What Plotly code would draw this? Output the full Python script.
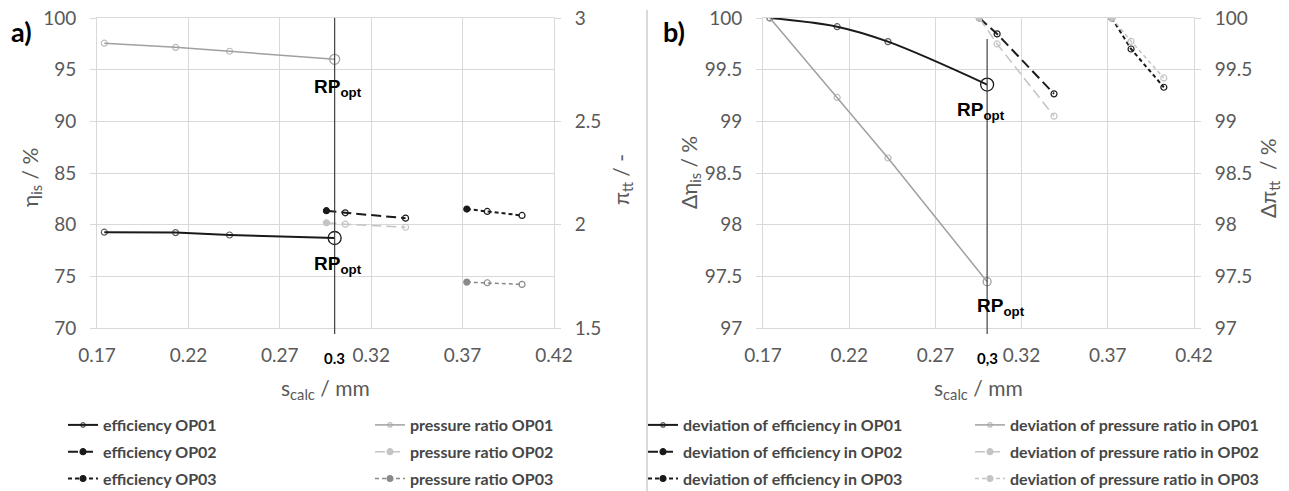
import plotly.graph_objects as go

W, H = 1289, 491

# ---- data: a) absolute values ----
x_op01 = [0.174, 0.213, 0.2425, 0.3]
x_op02 = [0.2955, 0.3058, 0.3388]
x_op03 = [0.3723, 0.3835, 0.4025]

eff_op01 = [79.27, 79.23, 79.0, 78.71]
eff_op02 = [81.35, 81.15, 80.63]
eff_op03 = [81.51, 81.28, 80.89]

pr_op01 = [2.878, 2.858, 2.839, 2.80]
pr_op02 = [2.009, 2.0025, 1.9875]
pr_op03 = [1.722, 1.719, 1.711]

# ---- data: b) deviations ----
deff_op01 = [100, 99.916, 99.771, 99.356]
deff_op02 = [100, 99.846, 99.266]
deff_op03 = [100, 99.70, 99.33]

dpr_op01 = [100, 99.231, 98.645, 97.448]
dpr_op02 = [100, 99.749, 99.05]
dpr_op03 = [100, 99.774, 99.42]

x_ticks = [0.17, 0.22, 0.27, 0.32, 0.37, 0.42]
rp_x = 0.3

BLACK = "#1a1a1a"
GRAY = "#a0a0a0"
LIGHT = "#c4c4c4"
MID = "#8a8a8a"
GRID = "#d9d9d9"
TXT = "#595959"
FONT = "Lato"


def px_x(p):
    return p / W


def px_y(p):
    return 1 - p / H


fig = go.Figure()


def add(x, y, name, color, width, dash, symbols, sizes, xa, ya, legend, shape="linear"):
    fig.add_trace(go.Scatter(
        x=x, y=y, name=name, mode="lines+markers",
        line=dict(color=color, width=width, dash=dash, shape=shape),
        marker=dict(size=sizes, symbol=symbols, color=color,
                    line=dict(color=color, width=1.2)),
        xaxis=xa, yaxis=ya, legend=legend, legendgroup=name,
    ))


def add_rp(x, y, color, size, xa, ya):
    # highlighted optimum point
    fig.add_trace(go.Scatter(
        x=[x], y=[y], mode="markers", showlegend=False, hoverinfo="skip",
        marker=dict(size=size, symbol="circle-open", color=color,
                    line=dict(color=color, width=1.3)),
        xaxis=xa, yaxis=ya,
    ))


o4 = ["circle-open"] * 4
s4 = [6, 6, 6, 0]          # last point is drawn by the optimum marker
sym3 = ["circle", "circle-open", "circle-open"]
SHORT = "4px,3px"
LONG = "10px,5px"

# a) efficiency (left axis) and pressure ratio (right axis)
add(x_op01, eff_op01, "efficiency OP01", BLACK, 2, "solid", o4, s4, "x", "y", "legend")
add(x_op02, eff_op02, "efficiency OP02", BLACK, 2, LONG, sym3, 6, "x", "y", "legend")
add(x_op03, eff_op03, "efficiency OP03", BLACK, 2, SHORT, sym3, 6, "x", "y", "legend")
add(x_op01, pr_op01, "pressure ratio OP01", GRAY, 1.5, "solid", o4, s4, "x", "y2", "legend2")
add(x_op02, pr_op02, "pressure ratio OP02", LIGHT, 1.5, LONG, sym3, 6, "x", "y2", "legend2")
add(x_op03, pr_op03, "pressure ratio OP03", MID, 1.5, SHORT, sym3, 6, "x", "y2", "legend2")
add_rp(x_op01[-1], eff_op01[-1], BLACK, 13, "x", "y")
add_rp(x_op01[-1], pr_op01[-1], GRAY, 10, "x", "y2")

# b) deviations
add(x_op01, deff_op01, "deviation of efficiency in OP01", BLACK, 2, "solid", o4, s4, "x2", "y3", "legend3", "spline")
add(x_op02, deff_op02, "deviation of efficiency in OP02", BLACK, 2, LONG, sym3, 6, "x2", "y3", "legend3")
add(x_op03, deff_op03, "deviation of efficiency in OP03", BLACK, 2, SHORT, sym3, 6, "x2", "y3", "legend3")
add(x_op01, dpr_op01, "deviation of pressure ratio in OP01", GRAY, 1.5, "solid", o4, s4, "x2", "y4", "legend4")
add(x_op02, dpr_op02, "deviation of pressure ratio in OP02", LIGHT, 1.5, LONG, sym3, 6, "x2", "y4", "legend4")
add(x_op03, dpr_op03, "deviation of pressure ratio in OP03", LIGHT, 1.5, SHORT, sym3, 6, "x2", "y4", "legend4")
add_rp(x_op01[-1], deff_op01[-1], BLACK, 13, "x2", "y3")
add_rp(x_op01[-1], dpr_op01[-1], GRAY, 8, "x2", "y4")

dom_y = [px_y(328), px_y(18)]
dom_a = [px_x(97), px_x(554)]
dom_b = [px_x(763), px_x(1194)]

xcommon = dict(range=[0.17, 0.42], tickvals=x_ticks, ticktext=[f"{v:.2f}" for v in x_ticks],
               showgrid=True, gridcolor=GRID, zeroline=False, showline=True, linecolor=GRID,
               mirror=True, ticks="", tickfont=dict(family=FONT, size=19, color=TXT),
               ticklabelstandoff=10, automargin=False)
ycommon = dict(showgrid=True, gridcolor=GRID, zeroline=False, showline=True, linecolor=GRID,
               ticks="outside", ticklen=6, tickcolor=GRID,
               tickfont=dict(family=FONT, size=19, color=TXT), ticklabelstandoff=10,
               automargin=False)

legend_common = dict(orientation="v", bgcolor="rgba(0,0,0,0)", yanchor="top", xanchor="left",
                     font=dict(family=FONT, size=16, color="#464646", weight="bold"),
                     tracegroupgap=3, traceorder="grouped", itemwidth=30)

LEG_TOP = 408
fig.update_layout(
    width=W, height=H, margin=dict(l=0, r=0, t=0, b=0, autoexpand=False),
    paper_bgcolor="white", plot_bgcolor="white",
    xaxis=dict(domain=dom_a, anchor="y", **xcommon),
    xaxis2=dict(domain=dom_b, anchor="y3", **xcommon),
    yaxis=dict(domain=dom_y, anchor="x", range=[70, 100], dtick=5, tick0=70, **ycommon),
    yaxis2=dict(domain=dom_y, anchor="x", overlaying="y", side="right", range=[1.5, 3],
                dtick=0.5, tick0=1.5, **{**ycommon, "showgrid": False}),
    yaxis3=dict(domain=dom_y, anchor="x2", range=[97, 100], dtick=0.5, tick0=97, **ycommon),
    yaxis4=dict(domain=dom_y, anchor="x2", overlaying="y3", side="right", range=[97, 100],
                dtick=0.5, tick0=97, **{**ycommon, "showgrid": False}),
    legend=dict(x=px_x(63), y=px_y(LEG_TOP), **legend_common),
    legend2=dict(x=px_x(370), y=px_y(LEG_TOP), **legend_common),
    legend3=dict(x=px_x(643), y=px_y(LEG_TOP), **legend_common),
    legend4=dict(x=px_x(970), y=px_y(LEG_TOP), **legend_common),
    showlegend=True,
)

# optimum reference lines at s_calc = 0.3 mm
fig.add_shape(type="line", xref="x", yref="paper", x0=rp_x, x1=rp_x,
              y0=px_y(334), y1=px_y(18), line=dict(color="#404040", width=1.2))
fig.add_shape(type="line", xref="x2", yref="paper", x0=rp_x, x1=rp_x,
              y0=px_y(334), y1=px_y(39), line=dict(color="#404040", width=1.2))
# divider between the two panels
fig.add_shape(type="line", xref="paper", yref="paper", x0=px_x(647), x1=px_x(647),
              y0=0, y1=px_y(10), line=dict(color=GRID, width=2))

ann = []
C = dict(xanchor="center", yanchor="middle", showarrow=False)
rp_text = "<b>RP<sub>opt</sub></b>"
rp_font = dict(family="Liberation Sans", size=19, color="black")
ann.append(dict(x=rp_x, y=pr_op01[-1], xref="x", yref="y2", text=rp_text,
                font=rp_font, yshift=-29, xshift=3, **C))
ann.append(dict(x=rp_x, y=eff_op01[-1], xref="x", yref="y", text=rp_text,
                font=rp_font, yshift=-27, xshift=3, **C))
ann.append(dict(x=rp_x, y=deff_op01[-1], xref="x2", yref="y3", text=rp_text,
                font=rp_font, yshift=-26, xshift=-6, **C))
ann.append(dict(x=rp_x, y=dpr_op01[-1], xref="x2", yref="y4", text=rp_text,
                font=rp_font, yshift=-25, xshift=14, **C))

# bold tick labels at the optimum
ann.append(dict(x=rp_x, y=px_y(358), xref="x", yref="paper", text="<b>0.3</b>",
                font=dict(family=FONT, size=15, color="black"), **C))
ann.append(dict(x=rp_x, y=px_y(358), xref="x2", yref="paper", text="<b>0,3</b>",
                font=dict(family=FONT, size=15, color="black"), **C))

# panel letters
ann.append(dict(x=px_x(21), y=px_y(31), xref="paper", yref="paper", text="<b>a)</b>",
                font=dict(family=FONT, size=27, color="black"), **C))
ann.append(dict(x=px_x(674), y=px_y(31), xref="paper", yref="paper", text="<b>b)</b>",
                font=dict(family=FONT, size=27, color="black"), **C))

# axis titles
tfont = dict(family=FONT, size=21, color=TXT)
ann.append(dict(x=px_x(31), y=px_y(178), xref="paper", yref="paper", text="η<sub>is</sub> / %",
                textangle=-90, font=tfont, **C))
ann.append(dict(x=px_x(622), y=px_y(180), xref="paper", yref="paper", text="π<sub>tt</sub> / -",
                textangle=-90, font=tfont, **C))
ann.append(dict(x=px_x(690), y=px_y(173), xref="paper", yref="paper", text="Δη<sub>is</sub> / %",
                textangle=-90, font=tfont, **C))
ann.append(dict(x=px_x(1269), y=px_y(178), xref="paper", yref="paper", text="Δπ<sub>tt</sub>  / %",
                textangle=-90, font=tfont, **C))
ann.append(dict(x=(dom_a[0] + dom_a[1]) / 2, y=px_y(389), xref="paper", yref="paper",
                text="s<sub>calc</sub> / mm", font=tfont, **C))
ann.append(dict(x=(dom_b[0] + dom_b[1]) / 2, y=px_y(389), xref="paper", yref="paper",
                text="s<sub>calc</sub> / mm", font=tfont, **C))

fig.update_layout(annotations=ann)
fig.write_html("out.html")
